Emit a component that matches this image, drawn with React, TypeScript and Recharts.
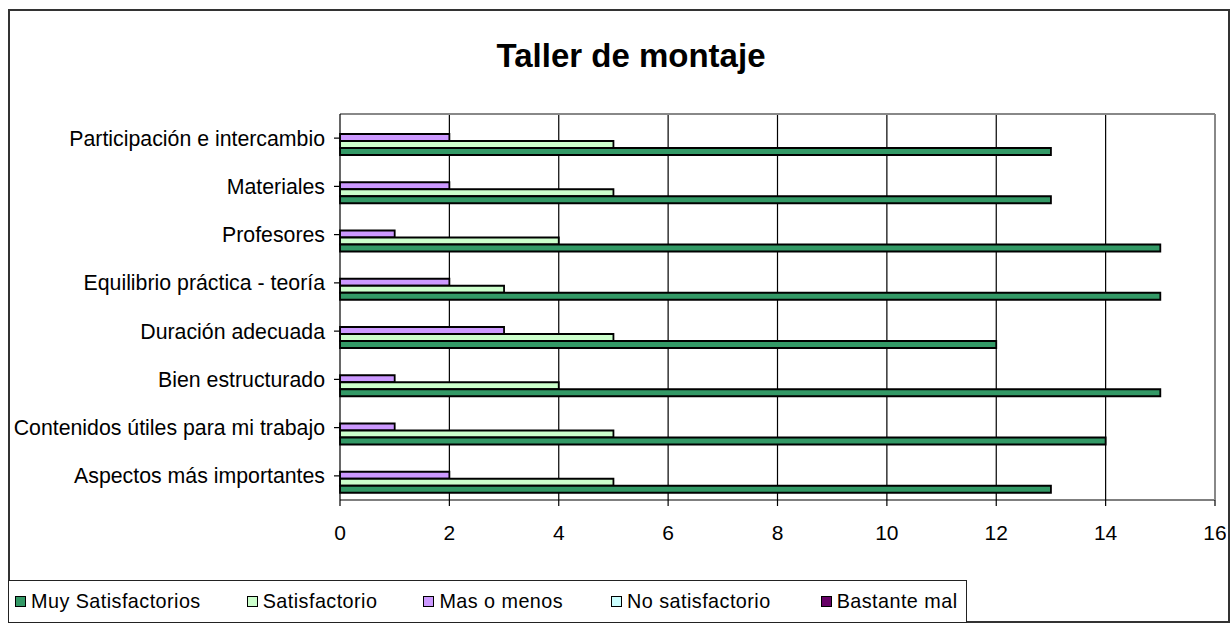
import { BarChart, Bar, XAxis, YAxis, CartesianGrid } from 'recharts';

const categories = [
  'Participación e intercambio',
  'Materiales',
  'Profesores',
  'Equilibrio práctica - teoría',
  'Duración adecuada',
  'Bien estructurado',
  'Contenidos útiles para mi trabajo',
  'Aspectos más importantes',
];

const muySatisfactorios = [13, 13, 15, 15, 12, 15, 14, 13];
const satisfactorio = [5, 5, 4, 3, 5, 4, 5, 5];
const masOMenos = [2, 2, 1, 2, 3, 1, 1, 2];
const noSatisfactorio = [0, 0, 0, 0, 0, 0, 0, 0];
const bastanteMal = [0, 0, 0, 0, 0, 0, 0, 0];

const xTicks = [0, 2, 4, 6, 8, 10, 12, 14, 16];

const series = [
  { key: 'muy', name: 'Muy Satisfactorios', color: '#339966' },
  { key: 'sat', name: 'Satisfactorio', color: '#CCFFCC' },
  { key: 'mas', name: 'Mas o menos', color: '#CC99FF' },
  { key: 'no', name: 'No satisfactorio', color: '#CCFFFF' },
  { key: 'mal', name: 'Bastante mal', color: '#660066' },
];

const data = categories.map((name, i) => ({
  name,
  muy: muySatisfactorios[i],
  sat: satisfactorio[i],
  mas: masOMenos[i],
  no: noSatisfactorio[i],
  mal: bastanteMal[i],
}));

const font = '"Liberation Sans", Arial, sans-serif';

// the frame goes nearly to the window edges, so drop the body margin
if (typeof document !== 'undefined') document.body.style.margin = '0';

const legendGaps = [0, 46, 46, 48, 50];

const ChartLegend = () => (
  <div
    style={{
      position: 'absolute',
      left: -2,
      top: 569,
      boxSizing: 'border-box',
      width: 959,
      height: 43,
      border: '1.5px solid #222',
      background: '#fff',
      display: 'flex',
      alignItems: 'center',
      paddingLeft: 6,
      fontFamily: font,
      fontSize: 19.8,
      color: '#000',
    }}
  >
    {series.map((s, i) => (
      <div key={s.key} style={{ display: 'flex', alignItems: 'center', marginLeft: legendGaps[i] }}>
        <span
          style={{
            display: 'inline-block',
            width: 9,
            height: 9,
            background: s.color,
            border: '1.5px solid #000',
            marginRight: 5,
          }}
        />
        <span style={{ letterSpacing: 0.45 }}>{s.name}</span>
      </div>
    ))}
  </div>
);

export default function App() {
  const drawOrder = [...series].reverse();
  return (
    <div style={{ position: 'relative', width: 1232, height: 625, background: '#fff' }}>
      <div
        style={{
          position: 'absolute',
          left: 8,
          top: 9,
          boxSizing: 'border-box',
          width: 1222,
          height: 614,
          border: '2px solid #333',
          background: '#fff',
          fontFamily: font,
        }}
      >
        <div
          style={{
            position: 'absolute',
            left: 0,
            width: 1242,
            top: 26,
            textAlign: 'center',
            fontWeight: 'bold',
            fontSize: 33,
            color: '#000',
          }}
        >
          Taller de montaje
        </div>
        <BarChart
          width={1216}
          height={610}
          data={data}
          layout="vertical"
          margin={{ top: 102, right: 10, bottom: 81, left: 0 }}
          barCategoryGap={6}
          barGap={0}
          style={{ position: 'absolute', left: 0, top: 0 }}
        >
          <CartesianGrid
            horizontal={false}
            verticalValues={xTicks.slice(1, -1)}
            stroke="#000"
            strokeWidth={1.2}
          />
          <XAxis
            type="number"
            domain={[0, 16]}
            ticks={xTicks}
            interval={0}
            height={40}
            tickSize={6}
            tickMargin={19}
            axisLine={{ stroke: '#000', strokeWidth: 1.2 }}
            tickLine={{ stroke: '#000', strokeWidth: 1.2 }}
            tick={{ fill: '#000', fontSize: 21, fontFamily: font }}
          />
          <XAxis
            xAxisId="top"
            orientation="top"
            type="number"
            domain={[0, 16]}
            height={1}
            tick={false}
            tickLine={false}
            axisLine={{ stroke: '#888', strokeWidth: 2 }}
          />
          <YAxis
            type="category"
            dataKey="name"
            width={330}
            interval={0}
            tickSize={6}
            tickMargin={9}
            axisLine={{ stroke: '#000', strokeWidth: 1.2 }}
            tickLine={{ stroke: '#000', strokeWidth: 1.2 }}
            tick={{ fill: '#000', fontSize: 21.3, fontFamily: font }}
          />
          <YAxis
            yAxisId="right"
            orientation="right"
            type="category"
            dataKey="name"
            width={1}
            tick={false}
            tickLine={false}
            axisLine={{ stroke: '#888', strokeWidth: 2 }}
          />
          {drawOrder.map((s) => (
            <Bar
              key={s.key}
              dataKey={s.key}
              name={s.name}
              fill={s.color}
              stroke="#000"
              strokeWidth={1.8}
              isAnimationActive={false}
            />
          ))}
        </BarChart>
        <ChartLegend />
      </div>
    </div>
  );
}
